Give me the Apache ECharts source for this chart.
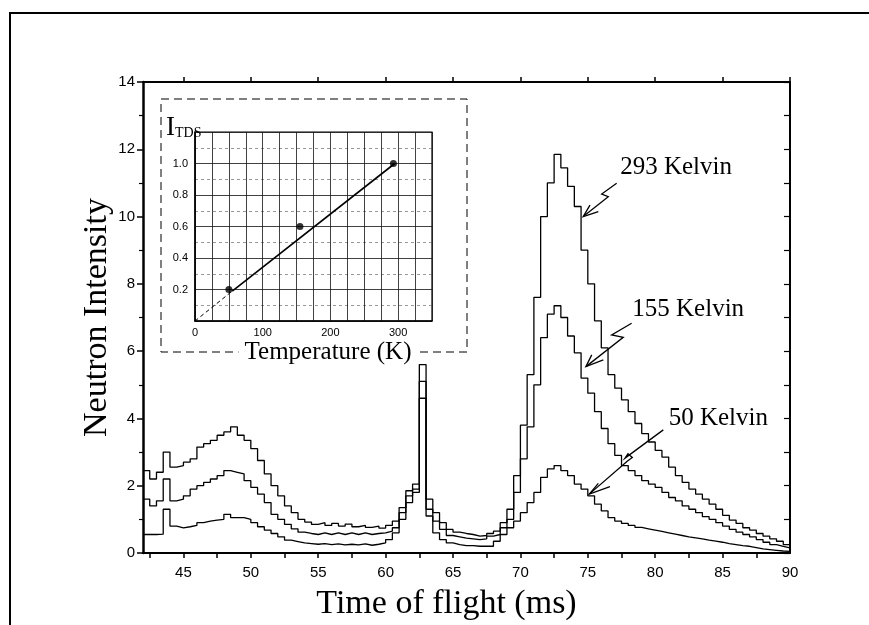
<!DOCTYPE html>
<html>
<head>
<meta charset="utf-8">
<script src="https://cdn.jsdelivr.net/npm/echarts@6/dist/echarts.min.js"></script>
<style>
html, body { margin: 0; padding: 0; background: #fff; }
#main { width: 869px; height: 625px; }
</style>
</head>
<body>
<div id="main"></div>
<script>
// time-of-flight bin edges (ms); each value below fills the bin starting at that edge
const tof = [
	42, 42.5, 43, 43.5, 44, 44.5, 45, 45.5, 46, 46.5,
	47, 47.5, 48, 48.5, 49, 49.5, 50, 50.5, 51, 51.5,
	52, 52.5, 53, 53.5, 54, 54.5, 55, 55.5, 56, 56.5,
	57, 57.5, 58, 58.5, 59, 59.5, 60, 60.5, 61, 61.5,
	62, 62.5, 63, 63.5, 64, 64.5, 65, 65.5, 66, 66.5,
	67, 67.5, 68, 68.5, 69, 69.5, 70, 70.5, 71, 71.5,
	72, 72.5, 73, 73.5, 74, 74.5, 75, 75.5, 76, 76.5,
	77, 77.5, 78, 78.5, 79, 79.5, 80, 80.5, 81, 81.5,
	82, 82.5, 83, 83.5, 84, 84.5, 85, 85.5, 86, 86.5,
	87, 87.5, 88, 88.5, 89, 89.5, 90
]
const k293 = [
	2.45, 2.2, 2.4, 3.0, 2.55, 2.6, 2.7, 2.8, 3.15, 3.25,
	3.35, 3.5, 3.6, 3.75, 3.5, 3.35, 3.1, 2.75, 2.35, 2.0,
	1.7, 1.4, 1.2, 1.0, 0.92, 0.85, 0.9, 0.82, 0.88, 0.8,
	0.86, 0.78, 0.82, 0.76, 0.8, 0.74, 0.82, 0.95, 1.35, 1.85,
	2.05, 5.6, 1.6, 1.2, 0.9, 0.7, 0.62, 0.58, 0.55, 0.5,
	0.52, 0.58, 0.65, 0.9, 1.3, 2.3, 3.8, 5.3, 7.6, 10.0,
	11.0, 11.85, 11.45, 10.9, 10.3, 9.0, 8.0, 6.9, 6.1, 5.3,
	4.9, 4.55, 4.2, 3.85, 3.55, 3.3, 3.05, 2.85, 2.55, 2.3,
	2.1, 1.9, 1.75, 1.6, 1.45, 1.3, 1.12, 0.98, 0.88, 0.75,
	0.68, 0.58, 0.5, 0.42, 0.35, 0.25, 0.25
]
const k155 = [
	1.6, 1.4, 1.55, 2.2, 1.55, 1.6, 1.7, 1.9, 2.0, 2.1,
	2.2, 2.3, 2.45, 2.4, 2.35, 2.15, 1.95, 1.75, 1.5, 1.15,
	1.0, 0.85, 0.72, 0.62, 0.58, 0.55, 0.6, 0.55, 0.6, 0.55,
	0.6, 0.55, 0.6, 0.55, 0.58, 0.6, 0.65, 0.75, 1.2, 1.7,
	1.9, 5.1, 1.3, 0.95, 0.7, 0.52, 0.48, 0.44, 0.42, 0.4,
	0.42, 0.5, 0.55, 0.75, 1.0, 1.8, 2.8, 3.75, 5.0, 6.4,
	7.1, 7.35, 7.0, 6.45, 5.95, 5.2, 4.75, 4.2, 3.7, 3.25,
	2.9, 2.6, 2.45, 2.3, 2.15, 2.05, 1.95, 1.8, 1.65, 1.55,
	1.4, 1.3, 1.2, 1.08, 1.0, 0.9, 0.8, 0.7, 0.62, 0.55,
	0.48, 0.4, 0.32, 0.25, 0.2, 0.15, 0.15
]
const k50 = [
	0.55, 0.55, 0.56, 1.3, 0.8, 0.75, 0.78, 0.82, 0.9, 0.95,
	0.98, 1.0, 1.15, 1.05, 1.05, 1.0, 0.9, 0.78, 0.68, 0.58,
	0.48, 0.38, 0.34, 0.3, 0.28, 0.26, 0.28, 0.25, 0.27, 0.24,
	0.26, 0.24, 0.27, 0.23, 0.26, 0.3, 0.4, 0.6, 1.0, 1.5,
	1.8, 4.6, 1.1, 0.6, 0.4, 0.3, 0.25, 0.22, 0.22, 0.2,
	0.2, 0.2, 0.35, 0.55, 0.75, 0.95, 1.2, 1.5, 1.8, 2.25,
	2.5, 2.6, 2.45, 2.3, 2.05, 1.9, 1.7, 1.45, 1.25, 1.05,
	0.95, 0.88, 0.82, 0.76, 0.72, 0.68, 0.64, 0.6, 0.56, 0.52,
	0.48, 0.45, 0.42, 0.38, 0.35, 0.32, 0.28, 0.25, 0.22, 0.2,
	0.16, 0.12, 0.1, 0.08, 0.06, 0.05, 0.05
]

// inset: I_TDS against temperature
const temps = [50, 155, 293]
const itds = [0.2, 0.6, 1.0]
const fitT = [0, 55, 295]
const fitI = [0, 0.19, 1.0]

const xLabels = [45, 50, 55, 60, 65, 70, 75, 80, 85, 90]
const xMinorTicks = [42.5, 45, 47.5, 50, 52.5, 55, 57.5, 60, 62.5, 65, 67.5, 70, 72.5, 75, 77.5, 80, 82.5, 85, 87.5]
const insetXLabels = [0, 100, 200, 300]
const insetYLabels = [0.2, 0.4, 0.6, 0.8, 1.0]

// curve labels and arrows, in data units of the main plot
const curveNames = ['293 Kelvin', '155 Kelvin', '50 Kelvin']
const namePos = [[77.4, 11.45], [78.3, 7.25], [81.0, 4.0]]
const arrows = [
	[[77.14, 10.99], [76.03, 10.67], [76.52, 10.59], [74.66, 10.0]],
	[[78.25, 6.83], [76.77, 6.48], [77.63, 6.41], [74.86, 5.54]],
	[[80.6, 3.66], [77.76, 2.82], [77.98, 2.95], [78.3, 2.84], [77.9, 2.72], [75.11, 1.75]]
]
const heads = [
	[[75.78, 10.15], [74.66, 10.0], [75.16, 10.34]],
	[[76.15, 5.74], [74.86, 5.54], [75.29, 5.89]],
	[[76.64, 1.97], [75.11, 1.75], [75.78, 2.07]]
]

const serif = '"Liberation Serif", "DejaVu Serif", serif'
const sans = '"Liberation Sans", Arial, sans-serif'
const black = '#000'

const chart = echarts.init(document.getElementById('main'))

const curve = vals => ({
	type: 'line',
	xAxisIndex: 0,
	yAxisIndex: 0,
	step: 'end',
	symbol: 'none',
	silent: true,
	lineStyle: { color: black, width: 1.3 },
	data: tof.map((t, i) => [t, vals[i]])
})

chart.setOption({
	animation: false,
	backgroundColor: '#fff',
	grid: [
		{ left: 143, right: 79, top: 82, bottom: 72, outerBoundsMode: 'none', containLabel: false },
		{ left: 195, top: 132, width: 237, height: 189, outerBoundsMode: 'none', containLabel: false, show: true, borderColor: black, borderWidth: 1.2, backgroundColor: 'transparent' }
	],
	xAxis: [{
		type: 'value', gridIndex: 0, min: 42, max: 90, position: 'bottom',
		axisLine: { show: true, onZero: false, lineStyle: { color: black, width: 2 } },
		axisTick: { show: true, customValues: xMinorTicks, length: 5, lineStyle: { color: black, width: 1.5 } },
		axisLabel: { customValues: xLabels, color: black, fontFamily: sans, fontSize: 15, margin: 12 },
		splitLine: { show: false },
		name: 'Time of flight (ms)', nameLocation: 'middle', nameGap: 34,
		nameTextStyle: { fontFamily: serif, fontSize: 34, color: black, padding: [0, 40, 0, 0] }
	}, {
		type: 'value', gridIndex: 0, min: 42, max: 90, position: 'top',
		axisLine: { show: true, onZero: false, lineStyle: { color: black, width: 2 } },
		axisTick: { show: true, customValues: xLabels, length: 5, lineStyle: { color: black, width: 1.5 } },
		axisLabel: { show: false },
		splitLine: { show: false }
	}, {
		type: 'value', gridIndex: 1, min: 0, max: 350, interval: 25,
		axisLine: { show: true, onZero: false, lineStyle: { color: black, width: 1.5 } },
		axisTick: { show: false },
		axisLabel: { customValues: insetXLabels, color: black, fontFamily: sans, fontSize: 11, margin: 6 },
		splitLine: { show: true, lineStyle: { color: '#111', width: 0.8 } }
	}],
	yAxis: [{
		type: 'value', gridIndex: 0, min: 0, max: 14, interval: 2, position: 'left',
		axisLine: { show: true, onZero: false, lineStyle: { color: black, width: 2.5 } },
		axisTick: { show: true, length: 6, lineStyle: { color: black, width: 1.5 } },
		minorTick: { show: true, splitNumber: 2, length: 4, lineStyle: { color: black, width: 1.2 } },
		axisLabel: { color: black, fontFamily: sans, fontSize: 15, margin: 8 },
		splitLine: { show: false },
		name: 'Neutron Intensity', nameLocation: 'middle', nameGap: 29, nameMoveOverlap: false,
		nameTextStyle: { fontFamily: serif, fontSize: 34, color: black }
	}, {
		type: 'value', gridIndex: 0, min: 0, max: 14, interval: 1, position: 'right',
		axisLine: { show: true, onZero: false, lineStyle: { color: black, width: 2 } },
		axisTick: { show: true, inside: true, length: 6, lineStyle: { color: black, width: 1.2 } },
		axisLabel: { show: false },
		splitLine: { show: false }
	}, {
		type: 'value', gridIndex: 1, min: 0, max: 1.2, interval: 0.2,
		axisLine: { show: true, onZero: false, lineStyle: { color: black, width: 1.5 } },
		axisTick: { show: false },
		axisLabel: {
			customValues: insetYLabels, color: black, fontFamily: sans, fontSize: 11, margin: 7,
			formatter: v => v.toFixed(1)
		},
		splitLine: { show: true, lineStyle: { color: '#111', width: 0.8 } },
		minorTick: { show: false, splitNumber: 2 },
		minorSplitLine: { show: true, lineStyle: { color: '#555', width: 0.6, type: [3, 3] } }
	}],
	series: [
		curve(k293),
		curve(k155),
		curve(k50),
		{
			type: 'line', xAxisIndex: 2, yAxisIndex: 2, symbol: 'none', silent: true, z: 6,
			lineStyle: { color: black, width: 1, type: [4, 3] },
			data: [[fitT[0], fitI[0]], [fitT[1], fitI[1]]]
		},
		{
			type: 'line', xAxisIndex: 2, yAxisIndex: 2, symbol: 'none', silent: true, z: 6,
			lineStyle: { color: black, width: 1.6 },
			data: [[fitT[1], fitI[1]], [fitT[2], fitI[2]]]
		},
		{
			type: 'scatter', xAxisIndex: 2, yAxisIndex: 2, symbol: 'circle', symbolSize: 7, silent: true, z: 7,
			itemStyle: { color: black },
			data: temps.map((t, i) => [t, itds[i]])
		}
	]
})

const px = p => chart.convertToPixel({ xAxisIndex: 0, yAxisIndex: 0 }, p)

const graphics = [
	// scanned page frame
	{ type: 'line', shape: { x1: 9, y1: 13, x2: 869, y2: 13 }, style: { stroke: black, lineWidth: 2 } },
	{ type: 'line', shape: { x1: 10, y1: 13, x2: 10, y2: 625 }, style: { stroke: black, lineWidth: 2 } },
	// dashed frame around the inset
	{ type: 'rect', shape: { x: 161, y: 99, width: 306, height: 253 }, style: { fill: null, stroke: black, lineWidth: 1, lineDash: [8, 5] } },
	{
		type: 'text', z: 8, x: 328, y: 352,
		style: { text: 'Temperature (K)', font: '25px ' + serif, fill: black, align: 'center', verticalAlign: 'middle', backgroundColor: '#fff', padding: [0, 6] }
	},
	{
		type: 'text', z: 8, x: 166, y: 114,
		style: {
			text: '{a|I}{b|TDS}',
			rich: {
				a: { font: '27px ' + serif, fill: black },
				b: { font: '14px ' + serif, fill: black, padding: [12, 0, 0, 0] }
			},
			fill: black
		}
	}
]

curveNames.forEach((name, i) => {
	const p = px(namePos[i])
	graphics.push({
		type: 'text', z: 10, x: p[0], y: p[1],
		style: { text: name, font: '25px ' + serif, fill: black, align: 'left', verticalAlign: 'middle' }
	})
	graphics.push({
		type: 'polyline', z: 10,
		shape: { points: arrows[i].map(px) },
		style: { stroke: black, lineWidth: 1.3, fill: null }
	})
	graphics.push({
		type: 'polyline', z: 10,
		shape: { points: heads[i].map(px) },
		style: { stroke: black, lineWidth: 1.3, fill: null }
	})
})

chart.setOption({ graphic: graphics })
</script>
</body>
</html>
